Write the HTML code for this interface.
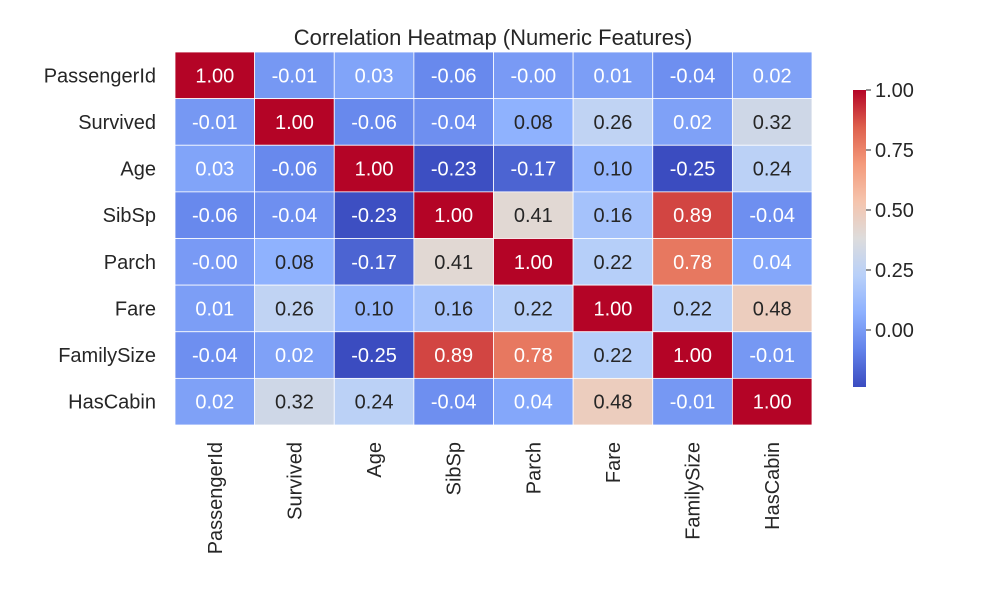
<!DOCTYPE html>
<html><head><meta charset="utf-8"><style>
body{margin:0;background:#fff;}
svg text{font-family:"Liberation Sans",sans-serif;fill:#262626;}
</style></head><body>
<svg id="c" width="999" height="599" xmlns="http://www.w3.org/2000/svg">
<text x="493" y="45" font-size="22" text-anchor="middle">Correlation Heatmap (Numeric Features)</text>
<defs><linearGradient id="cg" x1="0" y1="1" x2="0" y2="0"></linearGradient></defs>
</svg>
<script>
const labels=["PassengerId","Survived","Age","SibSp","Parch","Fare","FamilySize","HasCabin"];
const row0=[1.00,-0.01,0.03,-0.06,-0.001,0.01,-0.04,0.02];
const row1=[-0.01,1.00,-0.06,-0.04,0.08,0.26,0.02,0.32];
const row2=[0.03,-0.06,1.00,-0.23,-0.17,0.10,-0.25,0.24];
const row3=[-0.06,-0.04,-0.23,1.00,0.41,0.16,0.89,-0.04];
const row4=[-0.001,0.08,-0.17,0.41,1.00,0.22,0.78,0.04];
const row5=[0.01,0.26,0.10,0.16,0.22,1.00,0.22,0.48];
const row6=[-0.04,0.02,-0.25,0.89,0.78,0.22,1.00,-0.01];
const row7=[0.02,0.32,0.24,-0.04,0.04,0.48,-0.01,1.00];
const matrix=[row0,row1,row2,row3,row4,row5,row6,row7];
const cbTicks=[0.00,0.25,0.50,0.75,1.00];
const vmin=-0.2375,vmax=1.0;
const NS="http://www.w3.org/2000/svg";
const svg=document.getElementById('c');
const stops=[[59,76,192],[98,130,234],[141,176,254],[184,208,249],[221,220,220],[245,196,173],[244,154,123],[222,96,77],[180,4,38]];
function cmap(v){let t=(v-vmin)/(vmax-vmin);t=Math.max(0,Math.min(1,t));const p=t*8,i=Math.min(7,Math.floor(p)),f=p-i;return stops[i].map((c,k)=>Math.round(c+(stops[i+1][k]-c)*f));}
function lum(c){const l=c.map(x=>{x/=255;return x<=0.03928?x/12.92:Math.pow((x+0.055)/1.055,2.4)});return 0.2126*l[0]+0.7152*l[1]+0.0722*l[2];}
function fmt(v){const s=Math.abs(v).toFixed(2);return (v<0?'-':'')+s;}
const x0=175,x1=812,y0=52,y1=425,n=labels.length,cw=(x1-x0)/n,ch=(y1-y0)/n;
const xs=i=>x0+i*cw, ys=j=>y0+j*ch;
function el(t,a,txt){const e=document.createElementNS(NS,t);for(const k in a)e.setAttribute(k,a[k]);if(txt!==undefined)e.textContent=txt;svg.appendChild(e);return e;}
matrix.forEach((row,j)=>row.forEach((v,i)=>{
 const c=cmap(v);
 const r=el('rect',{x:xs(i),y:ys(j),width:cw,height:ch,fill:`rgb(${c})`,stroke:'#fff','stroke-width':0.8});
 
 
 const t=el('text',{x:xs(i)+cw/2,y:ys(j)+ch/2+7,'font-size':20,'text-anchor':'middle',style:'fill:'+(lum(c)>0.408?'#262626':'#fff')},fmt(v));
 
 
}));
labels.forEach((l,j)=>{
 const t=el('text',{x:156,y:ys(j)+ch/2+7,'font-size':20,'text-anchor':'end'},l);
 
 
 const cx=xs(j)+cw/2+7;
 const u=el('text',{x:cx,y:442,'font-size':20,'text-anchor':'end',transform:`rotate(-90 ${cx} 442)`},l);
 
 
});
const cbx=853,cbw=13,cbt=90,cbb=387;
const cy=v=>cbb-(v-vmin)/(vmax-vmin)*(cbb-cbt);
const g=document.getElementById('cg');
stops.forEach((s,i)=>{const st=document.createElementNS(NS,'stop');st.setAttribute('offset',i/8);st.setAttribute('stop-color',`rgb(${s})`);g.appendChild(st);});
const cb=el('rect',{x:cbx,y:cbt,width:cbw,height:cbb-cbt,fill:'url(#cg)'});


cbTicks.forEach(v=>{
 const y=cy(v);
 const tk=el('line',{x1:cbx+cbw,x2:cbx+cbw+5,y1:y,y2:y,stroke:'#262626','stroke-width':1});
 
 
 const t=el('text',{x:cbx+cbw+9,y:y+7,'font-size':20},v.toFixed(2));
 
 
});
</script>
</body></html>
